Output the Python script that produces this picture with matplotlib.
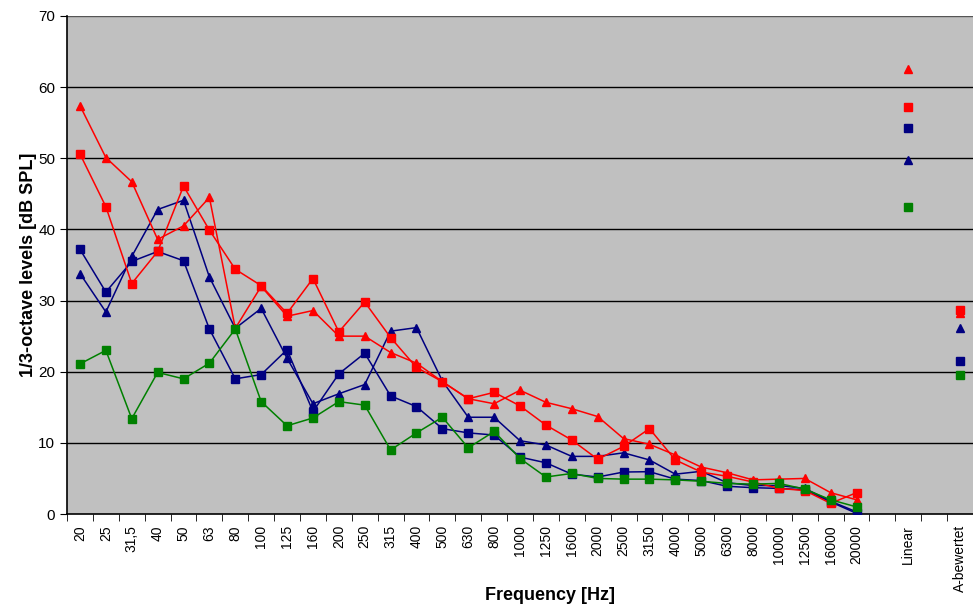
import numpy as np
import matplotlib
matplotlib.use("Agg")
import matplotlib.pyplot as plt
from matplotlib.ticker import FixedLocator

plt.rcParams["font.family"] = ["Liberation Sans", "DejaVu Sans"]

# Kategorien (leere Plaetze trennen Linear und A-bewertet)
categories = ["20", "25", "31,5", "40", "50", "63", "80", "100", "125", "160",
              "200", "250", "315", "400", "500", "630", "800", "1000", "1250",
              "1600", "2000", "2500", "3150", "4000", "5000", "6300", "8000",
              "10000", "12500", "16000", "20000", "", "Linear", "", "A-bewertet"]

red_tri = [57.4, 50.1, 46.7, 38.6, 40.5, 44.5, 26.1, 32.0, 27.8, 28.6,
           25.0, 25.0, 22.7, 21.2, 18.6, 16.2, 15.5, 17.4, 15.7, 14.8,
           13.7, 10.6, 9.8, 8.3, 6.6, 5.8, 4.8, 4.9, 5.0, 3.0,
           2.0, None, 62.6, None, 28.2]
red_sq = [50.6, 43.2, 32.4, 36.9, 46.1, 39.9, 34.4, 32.1, 28.2, 33.1,
          25.6, 29.8, 24.8, 20.6, 18.6, 16.2, 17.1, 15.2, 12.5, 10.4,
          7.7, 9.5, 12.0, 7.6, 5.9, 5.3, 4.5, 3.6, 3.3, 1.5,
          3.0, None, 57.2, None, 28.7]
navy_tri = [33.8, 28.4, 36.2, 42.8, 44.1, 33.3, 26.1, 28.9, 21.9, 15.5,
            16.9, 18.2, 25.7, 26.2, 18.7, 13.6, 13.6, 10.3, 9.7, 8.1,
            8.1, 8.6, 7.6, 5.6, 6.0, 4.4, 4.0, 4.0, 3.6, 1.8,
            0.3, None, 49.8, None, 26.2]
navy_sq = [37.2, 31.2, 35.5, 36.9, 35.6, 26.0, 19.0, 19.6, 23.1, 14.4,
           19.7, 22.6, 16.6, 15.1, 12.0, 11.4, 11.1, 8.0, 7.2, 5.6,
           5.2, 5.9, 5.95, 4.9, 4.7, 3.9, 3.7, 3.6, 3.4, 1.7,
           0.1, None, 54.3, None, 21.5]
green_sq = [21.1, 23.0, 13.4, 19.9, 19.0, 21.2, 26.0, 15.8, 12.4, 13.5,
            15.8, 15.3, 9.0, 11.4, 13.6, 9.3, 11.6, 7.8, 5.2, 5.7,
            5.0, 4.9, 4.9, 4.8, 4.6, 4.3, 4.2, 4.3, 3.5, 2.0,
            1.0, None, 43.1, None, 19.5]

series = [
    (navy_sq, "#000080", "s"),
    (navy_tri, "#000080", "^"),
    (red_sq, "#FF0000", "s"),
    (red_tri, "#FF0000", "^"),
    (green_sq, "#008000", "s"),
]

x = np.arange(len(categories))

fig = plt.figure(figsize=(9.73, 6.06), dpi=100)
ax = fig.add_axes([0.0689, 0.1518, 0.9311, 0.8218])
ax.set_facecolor("#C0C0C0")

for vals, col, mk in series:
    y = np.array([np.nan if v is None else v for v in vals], dtype=float)
    ax.plot(x, y, color=col, marker=mk, markersize=6, linewidth=1.1,
            markeredgecolor=col, zorder=3)

ax.set_xlim(-0.5, len(categories) - 0.5)
ax.set_ylim(0, 70)
ax.set_yticks(range(0, 71, 10))
for yv in range(10, 71, 10):
    ax.axhline(yv, color="black" if yv < 70 else "#555555", linewidth=1, zorder=1)

ax.set_xticks(x)
ax.set_xticklabels(categories, rotation=90, va="top", ha="center", fontsize=10)
ax.tick_params(axis="x", which="major", length=0, pad=8)
ax.xaxis.set_minor_locator(FixedLocator(np.arange(-0.5, len(categories), 1)))
ax.tick_params(axis="x", which="minor", length=5, direction="out")
ax.tick_params(axis="y", length=5, direction="out", labelsize=11)

for side in ["top", "right"]:
    ax.spines[side].set_visible(False)
for side in ["left", "bottom"]:
    ax.spines[side].set_color("black")
    ax.spines[side].set_linewidth(1.2)

ax.set_ylabel("1/3-octave levels [dB SPL]", fontsize=13, fontweight="bold")
ax.yaxis.set_label_coords(-0.0335, 0.5)
fig.text(550 / 973, 1 - 595 / 606, "Frequency [Hz]", fontsize=13,
         fontweight="bold", ha="center", va="center")

fig.savefig("out.png", dpi=100)
plt.close(fig)
